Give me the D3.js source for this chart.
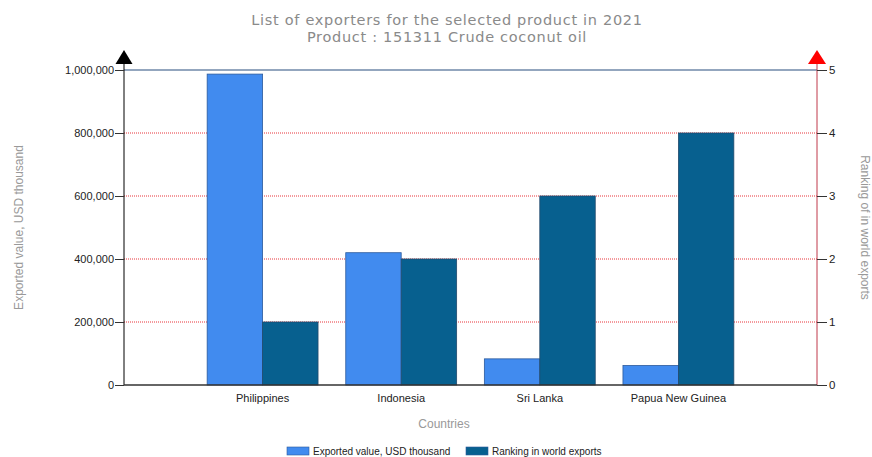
<!DOCTYPE html>
<html>
<head>
<meta charset="utf-8">
<script src="https://cdn.jsdelivr.net/npm/d3@7"></script>
<style>
  body { margin: 0; background: #fff; }
  text { font-family: "Liberation Sans", Arial, sans-serif; }
  .title { font-family: "DejaVu Sans", Verdana, sans-serif; letter-spacing: 0.7px; }
</style>
</head>
<body>
<svg id="chart" width="872" height="457"></svg>
<script>
// data
const countries = ['Philippines', 'Indonesia', 'Sri Lanka', 'Papua New Guinea'];
const exportedValues = [987000, 420000, 83000, 62000];
const rankings = [1, 2, 3, 4];
const valueTicks = [0, 200000, 400000, 600000, 800000, 1000000];
const rankTicks = [0, 1, 2, 3, 4, 5];
const seriesNames = ['Exported value, USD thousand', 'Ranking in world exports'];
const seriesColors = ['#418bef', '#07608f'];

const svg = d3.select('#chart');
const plotLeft = 124, plotRight = 817, plotTop = 70, plotBottom = 385;

const x0 = d3.scaleBand()
    .domain(countries)
    .range([plotLeft, plotRight])
    .paddingInner(0.2)
    .paddingOuter(0.6);

const x1 = d3.scaleBand()
    .domain([0, 1])
    .range([0, x0.bandwidth()]);

const yValue = d3.scaleLinear().domain([0, 1000000]).range([plotBottom, plotTop]);
const yRank = d3.scaleLinear().domain([0, 5]).range([plotBottom, plotTop]);

// title
svg.append('g')
    .selectAll('text')
    .data(['List of exporters for the selected product in 2021', 'Product : 151311 Crude coconut oil'])
    .join('text')
    .attr('class', 'title')
    .attr('x', 447)
    .attr('y', (d, i) => 25 + i * 17)
    .attr('text-anchor', 'middle')
    .attr('font-size', 14.5)
    .attr('fill', '#8a8a8a')
    .text(d => d);

// gridlines (red dotted), the top one is a solid blue-grey line
svg.append('g')
    .selectAll('line')
    .data(valueTicks.filter(d => d > 0 && d < 1000000))
    .join('line')
    .attr('x1', plotLeft).attr('x2', plotRight)
    .attr('y1', d => yValue(d)).attr('y2', d => yValue(d))
    .attr('stroke', '#e8343a')
    .attr('stroke-width', 1)
    .attr('stroke-dasharray', '1,1');

svg.append('line')
    .attr('x1', plotLeft).attr('x2', plotRight)
    .attr('y1', yValue(1000000)).attr('y2', yValue(1000000))
    .attr('stroke', '#6f88a8')
    .attr('stroke-width', 1.5);

// bars
const groups = svg.append('g')
    .selectAll('g')
    .data(countries)
    .join('g')
    .attr('transform', d => `translate(${x0(d)},0)`);

groups.append('rect')
    .attr('x', x1(0))
    .attr('width', x1.bandwidth())
    .attr('y', (d, i) => yValue(exportedValues[i]))
    .attr('height', (d, i) => plotBottom - yValue(exportedValues[i]))
    .attr('fill', seriesColors[0])
    .attr('stroke', '#2c5a9c')
    .attr('stroke-width', 0.8);

groups.append('rect')
    .attr('x', x1(1))
    .attr('width', x1.bandwidth())
    .attr('y', (d, i) => yRank(rankings[i]))
    .attr('height', (d, i) => plotBottom - yRank(rankings[i]))
    .attr('fill', seriesColors[1])
    .attr('stroke', '#234a6c')
    .attr('stroke-width', 0.8);

// left axis
const leftAxis = svg.append('g')
    .attr('transform', `translate(${plotLeft},0)`)
    .call(d3.axisLeft(yValue).tickValues(valueTicks).tickFormat(d3.format(',')).tickSize(9).tickSizeOuter(0));
leftAxis.select('.domain').attr('stroke', '#000').attr('d', `M0,${plotBottom}V${plotTop - 8}`);
leftAxis.selectAll('.tick line').attr('stroke', '#333');
leftAxis.selectAll('.tick text').attr('font-size', 11).attr('fill', '#222').attr('x', -10);

// right axis
const rightAxis = svg.append('g')
    .attr('transform', `translate(${plotRight},0)`)
    .call(d3.axisRight(yRank).tickValues(rankTicks).tickFormat(d3.format('d')).tickSize(10).tickSizeOuter(0));
rightAxis.select('.domain').attr('stroke', '#c0394a').attr('stroke-width', 1).attr('d', `M0,${plotBottom}V${plotTop - 8}`);
rightAxis.selectAll('.tick line').attr('stroke', '#333');
rightAxis.selectAll('.tick text').attr('font-size', 11.5).attr('fill', '#222').attr('x', 12);

// bottom axis line
svg.append('line')
    .attr('x1', plotLeft).attr('x2', plotRight)
    .attr('y1', plotBottom).attr('y2', plotBottom)
    .attr('stroke', '#333').attr('stroke-width', 1.3);

// arrow heads on the two vertical axes
svg.append('path')
    .attr('d', `M${plotLeft - 8.5},${plotTop - 6}L${plotLeft},${plotTop - 20}L${plotLeft + 8.5},${plotTop - 6}Z`)
    .attr('fill', '#000');
svg.append('path')
    .attr('d', `M${plotRight - 9},${plotTop - 6}L${plotRight},${plotTop - 20}L${plotRight + 9},${plotTop - 6}Z`)
    .attr('fill', '#ff0000');

// category labels
svg.append('g')
    .selectAll('text')
    .data(countries)
    .join('text')
    .attr('x', d => x0(d) + x0.bandwidth() / 2)
    .attr('y', 402)
    .attr('text-anchor', 'middle')
    .attr('font-size', 11)
    .attr('fill', '#222')
    .text(d => d);

// axis titles
svg.append('text')
    .attr('x', 444).attr('y', 428)
    .attr('text-anchor', 'middle')
    .attr('font-size', 12)
    .attr('fill', '#999')
    .text('Countries');

svg.append('text')
    .attr('transform', `translate(23,${(plotTop + plotBottom) / 2}) rotate(-90)`)
    .attr('text-anchor', 'middle')
    .attr('font-size', 12)
    .attr('fill', '#999')
    .text('Exported value, USD thousand');

svg.append('text')
    .attr('transform', `translate(861,${(plotTop + plotBottom) / 2}) rotate(90)`)
    .attr('text-anchor', 'middle')
    .attr('font-size', 12)
    .attr('fill', '#999')
    .text('Ranking of in world exports');

// legend
const legend = svg.append('g')
    .selectAll('g')
    .data(seriesNames)
    .join('g')
    .attr('transform', (d, i) => `translate(${[287, 466][i]},447)`);

legend.append('rect')
    .attr('width', 22).attr('height', 8)
    .attr('fill', (d, i) => seriesColors[i])
    .attr('stroke', '#2c5a9c').attr('stroke-width', 0.6);

legend.append('text')
    .attr('x', 26).attr('y', 8)
    .attr('font-size', 10)
    .attr('fill', '#222')
    .text(d => d);
</script>
</body>
</html>
